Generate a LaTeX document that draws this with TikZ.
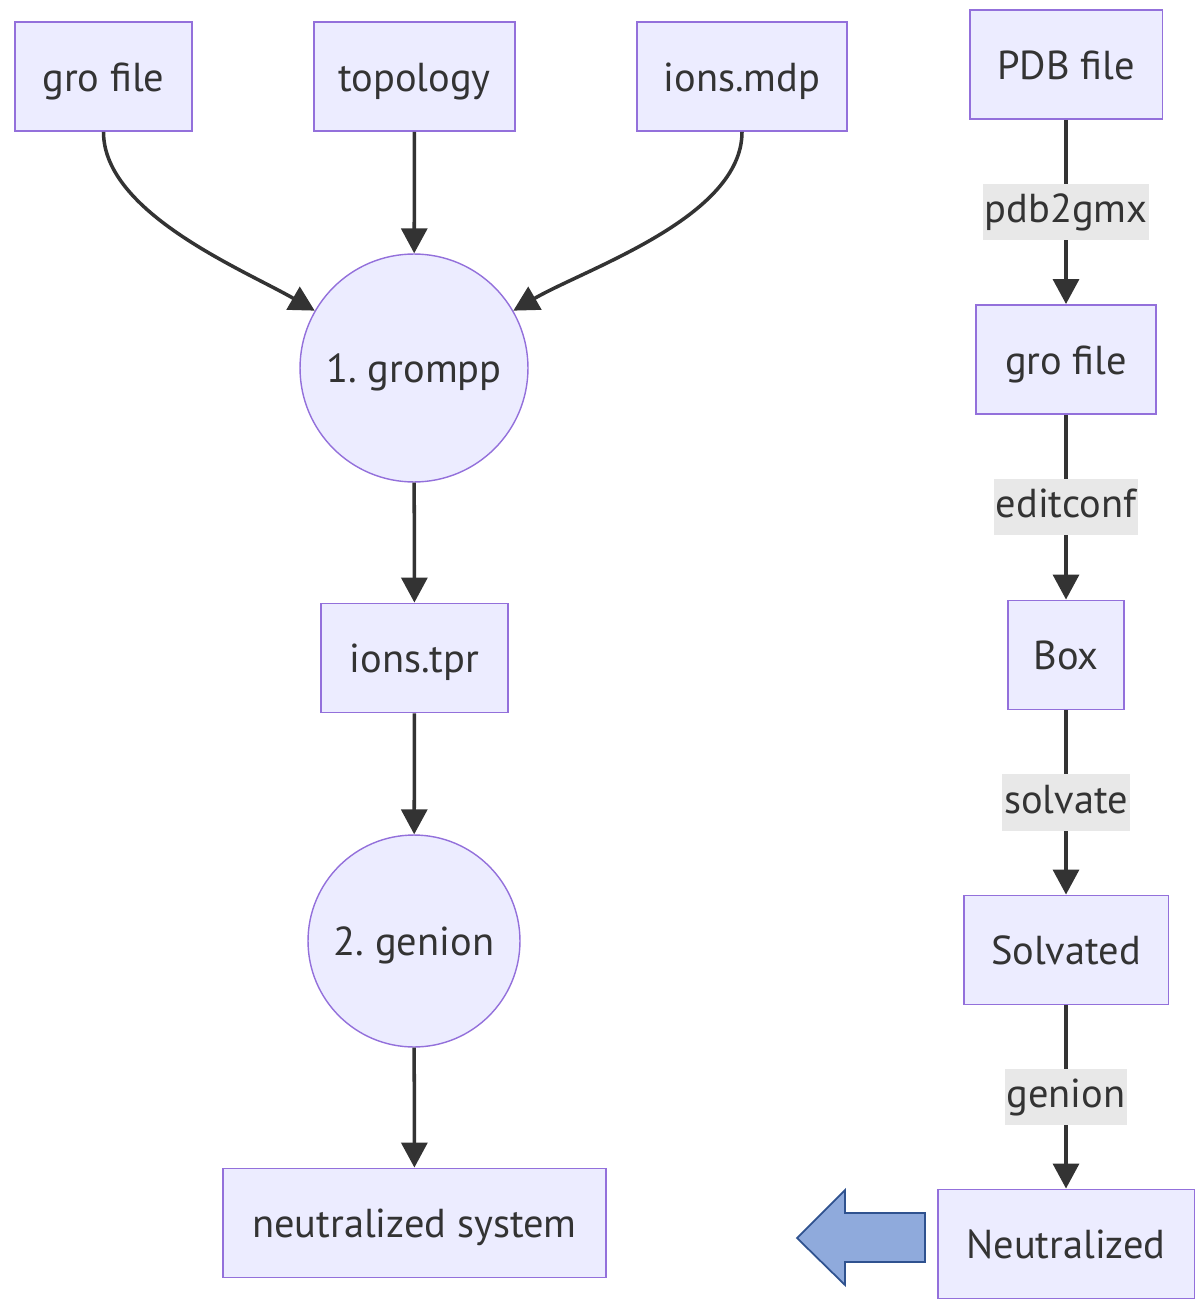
\documentclass[tikz,border=0pt]{standalone}
\usepackage{fontspec}
\setmainfont{PT Sans}
\usetikzlibrary{arrows.meta}
\definecolor{boxfill}{HTML}{ECECFF}
\definecolor{boxline}{HTML}{9370DB}
\definecolor{edgecol}{HTML}{333333}
\definecolor{lblfill}{HTML}{E8E8E8}
\definecolor{bigfill}{HTML}{8FAADC}
\definecolor{bigline}{HTML}{2F528F}
\tikzset{
  box/.style={draw=boxline, fill=boxfill, line width=1.1pt, minimum height=2.18cm,
    inner xsep=0.3cm, text height=17pt, text depth=0pt, text=edgecol,
    font=\fontsize{23}{27}\selectfont},
  stepcircle/.style={circle, draw=boxline, fill=boxfill, line width=0.8pt, inner sep=0pt,
    text height=17pt, text depth=0pt, text=edgecol, font=\fontsize{23}{27}\selectfont},
  flow/.style={draw=edgecol, line width=2pt, -{Triangle[length=0.5cm,width=0.52cm]}},
  lbl/.style={fill=lblfill, text=edgecol, inner xsep=1pt, inner ysep=5pt,
    text height=17pt, text depth=5pt, font=\fontsize{23}{27}\selectfont}
}
\begin{document}
\begin{tikzpicture}[x=0.02cm, y=-0.02cm]
  \useasboundingbox (0,0) rectangle (1194,1300);

  %%%%% left: ion step %%%%%
  \node[box, minimum width=3.54cm] (gro1) at (103.5,76.5) {gro file};
  \node[box, minimum width=4.02cm] (top) at (414.5,76.5) {topology};
  \node[box, minimum width=4.2cm] (mdp) at (742,76.5) {ions.mdp};
  \node[stepcircle, minimum size=4.56cm] (grompp) at (414,368) {1.~grompp};
  \node[box, minimum width=3.74cm] (tpr) at (414.5,658) {ions.tpr};
  \node[stepcircle, minimum size=4.24cm] (genion) at (414,941) {2.~genion};
  \node[box, minimum width=7.66cm] (neutsys) at (414.5,1223) {neutralized system};

  \draw[flow] (gro1.south) to[out=-90, in=150, looseness=0.75] (grompp.150);
  \draw[flow] (top) -- (grompp);
  \draw[flow] (mdp.south) to[out=-90, in=30, looseness=0.75] (grompp.30);
  \draw[flow] (grompp) -- (tpr);
  \draw[flow] (tpr) -- (genion);
  \draw[flow] (genion) -- (neutsys);

  %%%%% right: overview %%%%%
  \node[box, minimum width=3.86cm] (pdb) at (1066,64.5) {PDB file};
  \node[box, minimum width=3.6cm] (gro2) at (1066,359.5) {gro file};
  \node[box, minimum width=2.32cm] (boxed) at (1066,655) {Box};
  \node[box, minimum width=4.1cm] (solv) at (1066,950) {Solvated};
  \node[box, minimum width=5.14cm] (neut) at (1066,1244) {Neutralized};

  \draw[flow] (pdb) -- node[lbl] {pdb2gmx} (gro2);
  \draw[flow] (gro2) -- node[lbl] {editconf} (boxed);
  \draw[flow] (boxed) -- node[lbl] {solvate} (solv);
  \draw[flow] (solv) -- node[lbl] {genion} (neut);

  % big arrow
  \draw[fill=bigfill, draw=bigline, line width=1pt, line join=miter]
    (925,1213) -- (845,1213) -- (845,1190) -- (797,1238) -- (845,1285)
    -- (845,1262) -- (925,1262) -- cycle;
\end{tikzpicture}
\end{document}
